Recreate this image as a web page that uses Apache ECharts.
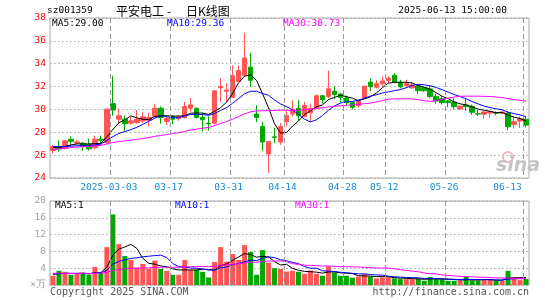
<!DOCTYPE html>
<html><head><meta charset="utf-8">
<script src="https://cdn.jsdelivr.net/npm/echarts@6/dist/echarts.min.js"></script>
<style>html,body{margin:0;padding:0;background:#fff}#c{width:545px;height:300px}</style>
</head><body><div id="c"></div>
<script>
const dates = ['2025-02-17','2025-02-18','2025-02-19','2025-02-20','2025-02-21','2025-02-24','2025-02-25','2025-02-26','2025-02-27','2025-02-28',
'2025-03-03','2025-03-04','2025-03-05','2025-03-06','2025-03-07','2025-03-10','2025-03-11','2025-03-12','2025-03-13','2025-03-14',
'2025-03-17','2025-03-18','2025-03-19','2025-03-20','2025-03-21','2025-03-24','2025-03-25','2025-03-26','2025-03-27','2025-03-28',
'2025-03-31','2025-04-01','2025-04-02','2025-04-03','2025-04-07','2025-04-08','2025-04-09','2025-04-10','2025-04-11',
'2025-04-14','2025-04-15','2025-04-16','2025-04-17','2025-04-18','2025-04-21','2025-04-22','2025-04-23','2025-04-24','2025-04-25',
'2025-04-28','2025-04-29','2025-04-30','2025-05-06','2025-05-07','2025-05-08','2025-05-09',
'2025-05-12','2025-05-13','2025-05-14','2025-05-15','2025-05-16','2025-05-19','2025-05-20','2025-05-21','2025-05-22','2025-05-23',
'2025-05-26','2025-05-27','2025-05-28','2025-05-29','2025-05-30','2025-06-03','2025-06-04','2025-06-05','2025-06-06',
'2025-06-09','2025-06-10','2025-06-11','2025-06-12','2025-06-13'];

const opens = [26.4,26.75,26.6,27.4,27.05,27.05,26.95,26.65,27.4,27.1,
30.5,29.15,29.15,28.8,28.85,29.0,29.05,29.4,30.1,28.95,
29.4,29.2,29.3,30.1,30.1,29.3,28.8,28.8,31.9,31.6,
31.05,32.45,33.0,33.7,29.6,28.5,26.1,27.6,27.15,28.95,
29.6,30.1,29.4,29.7,30.15,31.2,31.1,31.6,31.35,31.0,
30.59,30.34,30.99,32.39,31.94,32.24,32.54,32.99,32.39,32.09,
31.89,32.04,31.89,31.79,31.14,30.94,30.74,30.64,30.04,30.39,
30.28,29.62,29.58,29.68,29.73,29.68,29.68,28.68,28.98,29.13];

const closes = [26.75,26.55,27.25,27.2,27.15,26.75,26.55,27.4,27.3,30.03,
29.95,29.45,28.75,29.0,29.15,29.35,29.3,30.1,29.3,29.2,
29.15,29.35,30.25,30.4,29.3,29.1,28.75,31.63,32.0,31.7,
32.95,33.4,34.5,32.55,29.3,27.15,27.2,27.55,28.5,29.45,
30.0,29.45,30.35,30.1,31.2,30.85,31.8,31.3,31.05,30.6,
30.19,30.69,32.04,31.99,32.24,32.49,32.74,32.39,31.99,32.29,
32.14,31.64,31.64,31.14,30.74,30.59,30.59,30.24,30.29,30.24,
29.75,29.6,29.78,29.8,29.67,29.78,28.48,28.93,29.18,28.63];

const lows = [26.15,26.3,26.5,26.8,26.95,26.4,26.4,26.5,27.0,27.0,
29.45,28.7,28.05,28.65,28.75,28.8,28.5,29.3,28.75,28.65,
28.7,29.0,29.2,29.8,29.2,28.1,28.15,28.7,30.65,30.65,
31.0,32.4,32.9,31.95,28.9,26.35,24.45,27.05,26.9,28.5,
29.4,29.0,29.3,28.95,30.0,30.5,31.0,30.9,30.6,30.3,
29.99,30.14,30.94,31.59,31.84,31.99,32.34,32.29,31.84,31.89,
31.79,31.34,31.54,30.99,30.49,30.44,30.19,29.99,29.99,29.89,
29.53,29.43,29.18,29.28,29.48,29.58,28.18,28.33,28.38,28.43];

const highs = [26.9,27.3,27.3,27.65,27.35,27.15,27.45,27.7,27.7,30.03,
32.95,30.1,29.45,29.35,29.95,29.75,29.7,30.5,30.25,29.4,
29.5,29.5,30.65,31.0,30.15,29.7,29.4,31.63,32.75,32.3,
33.85,33.85,36.7,34.95,30.35,28.9,27.2,28.4,28.8,29.9,
30.8,30.8,30.65,30.5,31.3,31.2,33.4,32.05,31.4,31.2,
30.74,30.84,32.04,32.69,32.54,32.89,32.89,33.19,32.59,32.59,
32.39,32.14,31.94,32.04,31.39,31.19,30.79,30.99,30.34,30.94,
30.43,29.98,29.83,29.93,29.83,29.83,29.83,29.38,29.38,29.38];

const volumes = [2.2,3.37,3.14,2.43,2.67,2.67,2.43,4.31,2.82,9.02,
16.8,9.73,6.9,5.96,4.16,5.02,3.84,5.8,3.84,3.37,
2.43,2.43,5.96,3.6,3.6,3.14,1.8,5.5,9.02,5.57,
7.37,5.96,9.5,7.84,2.43,8.3,5.33,4.0,3.84,3.2,
3.37,3.14,2.67,3.45,2.67,2.2,4.4,3.0,2.2,2.2,
1.73,2.04,2.6,2.04,1.57,1.8,1.8,1.57,1.4,1.4,
1.4,1.57,1.0,1.9,1.4,1.4,1.0,1.0,1.0,1.9,
1.1,1.1,1.25,1.25,1.1,1.0,3.37,1.9,1.25,1.4];

// closes / volumes of the 29 sessions before the first shown day (for moving averages)
const priorCloses = [25.2,25.4,25.5,25.6,25.7,25.9,26.0,26.1,26.2,26.5,26.7,26.9,27.1,27.2,27.0,26.9,26.8,26.9,26.8,26.8,26.9,27.0,26.9,26.8,26.7,26.6,26.7,26.6,26.7];
const priorVolumes = [3.2,2.9,3.5,2.6,3.0,2.8,3.3,2.5,2.7,3.1,2.9,2.4,3.0,2.8,2.6,3.2,2.7,2.5,2.9,2.6,2.8,3.0,2.5,2.7,2.9,2.6,2.8,2.4,2.7];

const tickDates = ['2025-03-03','2025-03-17','2025-03-31','2025-04-14','2025-04-28','2025-05-12','2025-05-26','2025-06-13'];
const tickLabels = ['2025-03-03','03-17','03-31','04-14','04-28','05-12','05-26','06-13'];
const priceRange = [24, 38];
const volumeRange = [0, 20];

const stockCode = 'sz001359';
const stockName = '平安电工';
const chartKind = '日K线图';
const timestamp = '2025-06-13 15:00:00';

function movingAvg(prior, vals, n) {
  const all = prior.concat(vals);
  const off = prior.length;
  return vals.map((v, i) => {
    const end = off + i;
    if (end - n + 1 < 0) return '-';
    let s = 0;
    for (let k = end - n + 1; k <= end; k++) s += all[k];
    return +(s / n).toFixed(3);
  });
}

const ma5 = movingAvg(priorCloses, closes, 5);
const ma10 = movingAvg(priorCloses, closes, 10);
const ma30 = movingAvg(priorCloses, closes, 30);
const vma5 = movingAvg(priorVolumes, volumes, 5);
const vma10 = movingAvg(priorVolumes, volumes, 10);
const vma30 = movingAvg(priorVolumes, volumes, 30);

const UP = '#ff5555', DOWN = '#00a800';
const GRID_C = '#a8a8a8';
const DASH_C = '#999999';
const MONO = '"DejaVu Sans Mono", monospace';

const tickIndexList = tickDates.map(d => dates.indexOf(d));
const tickIdx = new Set(tickIndexList);
const labelOf = {};
tickDates.forEach((d, k) => labelOf[d] = tickLabels[k]);
const lastIdx = dates.length - 1;

const kData = opens.map((o, i) => [o, closes[i], lows[i], highs[i]]);
const volData = volumes.map((v, i) => ({ value: v, itemStyle: { color: closes[i] >= opens[i] ? UP : DOWN } }));

const last = a => a[a.length - 1];

const chart = echarts.init(document.getElementById('c'), null, { renderer: 'canvas' });

function txt(x, y, text, color, font, align) {
  return { type: 'text', x: x, y: y, silent: true, z: 100,
    style: { text: text, fill: color, font: font, textAlign: align || 'left', textVerticalAlign: 'middle' } };
}

const option = {
  animation: false,
  backgroundColor: '#fff',
  grid: [
    { left: 50, right: 16, top: 18, height: 160, show: true, borderColor: GRID_C, borderWidth: 1, backgroundColor: 'transparent' },
    { left: 50, right: 16, top: 201, height: 84, show: true, borderColor: GRID_C, borderWidth: 1, backgroundColor: 'transparent' }
  ],
  xAxis: [
    { type: 'category', gridIndex: 0, data: dates, boundaryGap: true,
      axisLine: { show: false }, axisTick: { show: false },
      axisLabel: {
        interval: (i) => tickIdx.has(i),
        margin: 5,
        formatter: (v, i) => (i === lastIdx ? '{r|' : '{n|') + (labelOf[v] || '') + '}',
        rich: {
          n: { color: '#1a8ad4', fontFamily: MONO, fontSize: 9.5, padding: [0, 8, 0, 0] },
          r: { color: '#1a8ad4', fontFamily: MONO, fontSize: 9.5, padding: [0, 37, 0, 0] }
        }
      },
      splitLine: { show: false } },
    { type: 'category', gridIndex: 1, data: dates, boundaryGap: true,
      axisLine: { show: false }, axisTick: { show: false }, axisLabel: { show: false },
      splitLine: { show: false } }
  ],
  yAxis: [
    { type: 'value', gridIndex: 0, min: priceRange[0], max: priceRange[1], interval: 2,
      axisLine: { show: false }, axisTick: { show: false },
      axisLabel: { color: '#ff0000', fontFamily: MONO, fontSize: 9.5, margin: 4 },
      splitLine: { show: true, lineStyle: { color: GRID_C, type: [1.5, 2.5], width: 1 } } },
    { type: 'value', gridIndex: 1, min: volumeRange[0], max: volumeRange[1], interval: 4,
      axisLine: { show: false }, axisTick: { show: false },
      axisLabel: { color: '#a0a0a0', fontFamily: MONO, fontSize: 9.5, margin: 4,
        formatter: (v) => v === 0 ? '×万' : String(v) },
      splitLine: { show: true, lineStyle: { color: GRID_C, type: [1.5, 2.5], width: 1 } } }
  ],
  series: [
    { type: 'candlestick', xAxisIndex: 0, yAxisIndex: 0, data: kData, barWidth: 5,
      itemStyle: { color: UP, color0: DOWN, borderColor: UP, borderColor0: DOWN, borderWidth: 1 }, z: 2 },
    { type: 'line', xAxisIndex: 0, yAxisIndex: 0, data: ma5, symbol: 'none', lineStyle: { color: '#000000', width: 1 }, z: 3 },
    { type: 'line', xAxisIndex: 0, yAxisIndex: 0, data: ma10, symbol: 'none', lineStyle: { color: '#0000ff', width: 1 }, z: 3 },
    { type: 'line', xAxisIndex: 0, yAxisIndex: 0, data: ma30, symbol: 'none', lineStyle: { color: '#ff00ff', width: 1 }, z: 3 },
    { type: 'bar', xAxisIndex: 1, yAxisIndex: 1, data: volData, barWidth: 5, z: 2 },
    { type: 'line', xAxisIndex: 1, yAxisIndex: 1, data: vma5, symbol: 'none', lineStyle: { color: '#000000', width: 1 }, z: 3 },
    { type: 'line', xAxisIndex: 1, yAxisIndex: 1, data: vma10, symbol: 'none', lineStyle: { color: '#0000ff', width: 1 }, z: 3 },
    { type: 'line', xAxisIndex: 1, yAxisIndex: 1, data: vma30, symbol: 'none', lineStyle: { color: '#ff00ff', width: 1 }, z: 3 }
  ]
};
chart.setOption(option);

// vertical dashed date lines at slot boundaries, positioned through the chart's own scales
function px(gi, idx, val) {
  return chart.convertToPixel({ xAxisIndex: gi, yAxisIndex: gi }, [idx, val]);
}
const band = px(0, 1, priceRange[0])[0] - px(0, 0, priceRange[0])[0];
const dashLines = [];
tickIndexList.forEach(k => {
  [[0, priceRange], [1, volumeRange]].forEach(([gi, r]) => {
    const top = px(gi, k, r[1]);
    const bot = px(gi, k, r[0]);
    const x = Math.round(top[0] - band / 2) + 0.5;
    dashLines.push({ type: 'line', silent: true, z: 50,
      shape: { x1: x, y1: top[1], x2: x, y2: bot[1] },
      style: { stroke: DASH_C, lineWidth: 1, lineDash: [5, 3] } });
  });
});

chart.setOption({
  graphic: dashLines.concat([
    txt(47, 11, stockCode, '#000', '9.5px ' + MONO),
    txt(116, 11, stockName, '#000', '12px "Noto Sans CJK SC"'),
    txt(167, 11, '-', '#000', '12px "Noto Sans CJK SC"'),
    txt(186, 11, chartKind, '#000', '12px "Noto Sans CJK SC"'),
    txt(507, 11, timestamp, '#000', '9.5px ' + MONO, 'right'),
    txt(52, 24, 'MA5:' + last(ma5).toFixed(2), '#000000', '9.5px ' + MONO),
    txt(167, 24, 'MA10:' + last(ma10).toFixed(2), '#0000ff', '9.5px ' + MONO),
    txt(283, 24, 'MA30:' + last(ma30).toFixed(2), '#ff00ff', '9.5px ' + MONO),
    txt(55, 206, 'MA5:' + Math.floor(last(vma5)), '#000000', '9.5px ' + MONO),
    txt(175, 206, 'MA10:' + Math.floor(last(vma10)), '#0000ff', '9.5px ' + MONO),
    txt(295, 206, 'MA30:' + Math.floor(last(vma30)), '#ff00ff', '9.5px ' + MONO),
    txt(50, 292, 'Copyright 2025 SINA.COM', '#555', '10px ' + MONO),
    txt(529, 292, 'http://finance.sina.com.cn', '#555', '10px ' + MONO, 'right'),
    { type: 'circle', shape: { cx: 508, cy: 157, r: 5 }, silent: true, z: 1,
      style: { fill: 'none', stroke: '#f2b8b8', lineWidth: 2 } },
    txt(496, 166, 'sina', '#c4c4c4', 'italic bold 19px "DejaVu Sans"')
  ])
});
</script>
</body></html>
